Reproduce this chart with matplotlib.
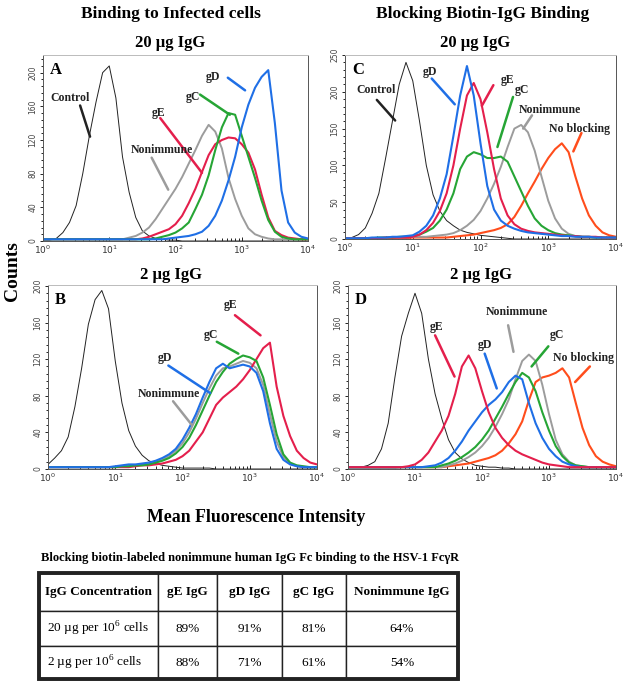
import numpy as np
import matplotlib
matplotlib.use('Agg')
import matplotlib.pyplot as plt
from matplotlib.patches import Rectangle

matplotlib.rcParams['font.family'] = 'DejaVu Sans'
SERIF = 'Liberation Serif'

# histogram channels, log10 of fluorescence (0.1 decade bins)
channels = np.arange(41) / 10.0

# Panel A - binding to infected cells, 20 ug IgG
ctrl_A = [1, 1, 3, 10, 22, 42, 80, 125, 165, 200, 208, 170, 100, 58, 28, 12, 6, 3, 2, 1, 1,
          0, 0, 0, 0, 0, 0, 0, 0, 0, 0, 0, 0, 0, 0, 0, 0, 0, 0, 0, 0]
non_A = [2, 2, 2, 2, 2, 2, 2, 2, 2, 2, 2, 2, 2, 4, 6, 10, 16, 26, 38, 50, 62, 76, 92, 108,
         125, 138, 130, 110, 75, 50, 30, 15, 8, 5, 3, 2, 2, 2, 2, 2, 2]
gE_A = [2, 2, 2, 2, 2, 2, 2, 2, 2, 2, 2, 2, 2, 2, 2, 3, 5, 8, 11, 14, 20, 30, 45, 62, 82,
        102, 115, 120, 123, 122, 115, 105, 85, 55, 28, 12, 7, 4, 3, 2, 2]
gC_A = [2, 2, 2, 2, 2, 2, 2, 2, 2, 2, 2, 2, 2, 2, 2, 2, 2, 3, 5, 7, 10, 15, 22, 38, 55,
        78, 108, 135, 152, 150, 125, 100, 75, 48, 25, 11, 5, 3, 2, 2, 2]
gD_A = [2, 2, 2, 2, 2, 2, 2, 2, 2, 2, 2, 2, 2, 2, 2, 2, 2, 2, 2, 3, 4, 5, 6, 8, 11, 18,
        30, 48, 72, 100, 135, 162, 182, 195, 203, 140, 60, 22, 10, 5, 3]

# Panel B - binding to infected cells, 2 ug IgG
ctrl_B = [5, 12, 20, 35, 68, 110, 158, 185, 195, 175, 118, 72, 42, 25, 15, 9, 6, 4, 3, 2, 1,
          1, 1, 1, 1, 0, 0, 0, 0, 0, 0, 0, 0, 0, 0, 0, 0, 0, 0, 0, 0]
non_B = [2, 2, 2, 2, 2, 2, 2, 2, 2, 2, 2, 3, 3, 4, 5, 6, 8, 10, 14, 20, 28, 40, 55, 72, 88,
         102, 110, 112, 115, 118, 116, 110, 92, 60, 30, 13, 6, 3, 2, 2, 2]
gE_B = [2, 2, 2, 2, 2, 2, 2, 2, 2, 2, 2, 2, 2, 3, 4, 4, 5, 6, 8, 10, 14, 20, 30, 40, 55,
        70, 78, 84, 90, 98, 108, 120, 132, 138, 90, 58, 36, 20, 12, 7, 5]
gC_B = [2, 2, 2, 2, 2, 2, 2, 2, 2, 2, 2, 3, 3, 4, 4, 5, 7, 9, 12, 17, 24, 34, 48, 64, 80,
        95, 106, 115, 120, 124, 122, 118, 100, 70, 38, 16, 7, 4, 3, 2, 2]
gD_B = [2, 2, 2, 2, 2, 2, 2, 2, 2, 2, 3, 4, 5, 5, 6, 7, 9, 12, 16, 22, 32, 45, 60, 78, 95,
        110, 115, 110, 112, 114, 112, 105, 85, 50, 22, 10, 5, 3, 2, 2, 2]

# Panel C - blocking biotin-IgG binding, 20 ug IgG
ctrl_C = [1, 2, 6, 15, 35, 62, 110, 160, 210, 240, 215, 160, 100, 60, 38, 25, 18, 12, 9, 7,
          5, 4, 3, 2, 1, 0, 0, 0, 0, 0, 0, 0, 0, 0, 0, 0, 0, 0, 0, 0, 0]
nob_C = [1, 1, 1, 1, 1, 1, 1, 1, 1, 1, 2, 2, 2, 2, 2, 2, 3, 4, 5, 6, 8, 10, 12, 15, 20, 30,
         45, 62, 78, 95, 110, 122, 130, 118, 85, 55, 32, 18, 9, 5, 3]
non_C = [1, 1, 1, 1, 1, 1, 1, 2, 2, 2, 3, 3, 3, 4, 5, 6, 8, 12, 18, 26, 38, 55, 75, 98,
         125, 150, 155, 145, 120, 85, 52, 28, 14, 7, 4, 3, 2, 2, 2, 1, 1]
gC_C = [1, 1, 1, 1, 1, 2, 2, 2, 3, 3, 4, 6, 10, 15, 25, 40, 62, 95, 112, 118, 115, 110,
        110, 112, 105, 85, 65, 45, 28, 18, 12, 8, 6, 5, 4, 3, 3, 2, 2, 2, 2]
gE_C = [1, 1, 1, 1, 1, 1, 2, 2, 2, 2, 3, 6, 12, 22, 38, 62, 100, 150, 195, 212, 190, 145,
        95, 55, 32, 20, 14, 11, 9, 8, 7, 6, 5, 4, 4, 3, 3, 3, 2, 2, 2]
gD_C = [1, 1, 1, 1, 2, 2, 2, 3, 3, 4, 5, 10, 18, 32, 55, 88, 140, 195, 235, 195, 130, 72,
        40, 25, 18, 14, 11, 9, 8, 7, 6, 5, 4, 4, 3, 3, 3, 2, 2, 2, 2]

# Panel D - blocking biotin-IgG binding, 2 ug IgG
ctrl_D = [1, 1, 2, 4, 8, 22, 50, 100, 145, 170, 192, 170, 120, 82, 55, 32, 18, 11, 7, 4, 3,
          2, 2, 1, 1, 0, 0, 0, 0, 0, 0, 0, 0, 0, 0, 0, 0, 0, 0, 0, 0]
nob_D = [2, 2, 2, 2, 2, 2, 2, 2, 2, 2, 2, 2, 2, 2, 2, 3, 4, 5, 6, 8, 10, 12, 15, 20, 28,
         38, 52, 75, 95, 100, 102, 105, 110, 100, 72, 45, 26, 14, 8, 5, 3]
non_D = [1, 1, 1, 1, 1, 1, 1, 1, 2, 2, 2, 2, 2, 2, 2, 4, 6, 9, 13, 18, 25, 34, 46, 60, 76,
         98, 118, 125, 118, 92, 60, 32, 16, 8, 4, 3, 2, 2, 2, 2, 2]
gC_D = [2, 2, 2, 2, 2, 2, 2, 2, 2, 2, 2, 2, 2, 2, 4, 6, 9, 13, 18, 24, 32, 42, 55, 68, 82,
        95, 105, 100, 85, 62, 42, 25, 14, 7, 4, 3, 2, 2, 2, 2, 2]
gD_D = [2, 2, 2, 2, 2, 2, 2, 2, 2, 2, 2, 2, 3, 4, 7, 12, 20, 30, 42, 52, 62, 70, 76, 84, 95,
        102, 98, 72, 50, 34, 22, 14, 8, 5, 3, 2, 2, 2, 2, 2, 2]
gE_D = [2, 2, 2, 2, 2, 2, 2, 2, 2, 3, 5, 10, 18, 30, 42, 58, 82, 112, 124, 110, 85, 62, 45,
        34, 26, 20, 16, 13, 10, 7, 5, 4, 3, 2, 2, 2, 2, 2, 2, 2, 2]

# table values (% blocking)
table_cols = ['IgG Concentration', 'gE IgG', 'gD IgG', 'gC IgG', 'Nonimmune IgG']
row_labels = [r'20 µg per 10$^{\mathdefault{6}}$ cells', r'2 µg per 10$^{\mathdefault{6}}$ cells']
block_20ug = ['89%', '91%', '81%', '64%']
block_2ug = ['88%', '71%', '61%', '54%']

RED = '#e41f4c'
BLUE = '#1f6fe6'
GREEN = '#26a535'
GRAY = '#9c9c9c'
ORANGE = '#ff4d1c'
BLACK = '#222222'

W, H = 628, 687
fig = plt.figure(figsize=(W / 100, H / 100), dpi=100)


def rect(left, right, bottom, top):
    return [left / W, 1 - bottom / H, (right - left) / W, (bottom - top) / H]


def panel(box, ymax, ystep, yminor, letter, curves, labels):
    ax = fig.add_axes(box)
    for vals, color, lw in curves:
        ax.plot(10 ** channels, vals, color=color, lw=lw)
    ax.set_xscale('log')
    ax.set_xlim(1, 1e4)
    ax.set_ylim(0, ymax)
    ax.set_xticks([1, 10, 100, 1000, 10000])
    ax.set_xticklabels([r'$\mathdefault{10^{%d}}$' % k for k in range(5)], fontsize=6.5, color='#333333')
    ax.set_yticks(np.arange(0, ymax + 1, ystep))
    ax.set_yticks(np.arange(0, ymax + 1, yminor), minor=True)
    ax.tick_params(axis='y', which='both', direction='out', labelsize=5.5, labelcolor='#444444',
                   labelrotation=90, length=2.5, width=0.6, pad=1.5)
    ax.tick_params(axis='y', which='minor', length=1.5)
    ax.tick_params(axis='x', which='both', direction='in', length=3, width=0.6, pad=2)
    ax.tick_params(axis='x', which='minor', length=2)
    for lbl in ax.get_yticklabels():
        lbl.set_va('center')
    for sp in ax.spines.values():
        sp.set_linewidth(0.7)
        sp.set_color('#555555')
    ax.spines['top'].set_color('#bbbbbb')
    ax.text(0.025, 0.92, letter, transform=ax.transAxes, fontfamily=SERIF,
            fontweight='bold', fontsize=12, va='center', ha='left')
    for txt, color, tpos, p0, p1 in labels:
        ax.text(10 ** tpos[0], tpos[1], txt, fontfamily=SERIF, fontweight='bold',
                fontsize=8.5, ha='center', va='center', color='#222222')
        ax.annotate('', xy=(10 ** p1[0], p1[1]), xytext=(10 ** p0[0], p0[1]),
                    arrowprops=dict(arrowstyle='-', color=color, lw=1.8, shrinkA=0, shrinkB=0))
    return ax


panel(rect(43, 308, 241, 55), 221, 40, 8, 'A',
      [(ctrl_A, BLACK, 0.7), (non_A, GRAY, 1.4), (gE_A, RED, 1.5), (gC_A, GREEN, 1.5), (gD_A, BLUE, 1.5)],
      [('Control', BLACK, (0.41, 170), (0.56, 161), (0.71, 124)),
       ('gE', RED, (1.75, 152), (1.77, 146), (2.40, 81)),
       ('gC', GREEN, (2.26, 171), (2.37, 174), (2.82, 150)),
       ('gD', BLUE, (2.57, 195), (2.79, 194), (3.05, 179)),
       ('Nonimmune', GRAY, (1.80, 108), (1.64, 99), (1.89, 61))])

panel(rect(345, 616, 239, 55), 250, 50, 10, 'C',
      [(ctrl_C, BLACK, 0.7), (nob_C, ORANGE, 1.5), (non_C, GRAY, 1.4), (gC_C, GREEN, 1.5),
       (gE_C, RED, 1.5), (gD_C, BLUE, 1.5)],
      [('Control', BLACK, (0.46, 202), (0.47, 189), (0.74, 161)),
       ('gD', BLUE, (1.25, 227), (1.28, 218), (1.62, 183)),
       ('gE', RED, (2.40, 216), (2.19, 209), (2.02, 181)),
       ('gC', GREEN, (2.61, 203), (2.48, 193), (2.25, 125)),
       ('Nonimmune', GRAY, (3.03, 175), (2.76, 168), (2.63, 150)),
       ('No blocking', ORANGE, (3.46, 149), (3.49, 144), (3.37, 119))])

panel(rect(48, 317, 469, 285), 201, 40, 8, 'B',
      [(ctrl_B, BLACK, 0.7), (non_B, GRAY, 1.4), (gE_B, RED, 1.5), (gC_B, GREEN, 1.5), (gD_B, BLUE, 1.5)],
      [('gE', RED, (2.72, 179), (2.78, 168), (3.16, 146)),
       ('gC', GREEN, (2.42, 146), (2.51, 139), (2.83, 126)),
       ('gD', BLUE, (1.74, 121), (1.79, 113), (2.41, 83)),
       ('Nonimmune', GRAY, (1.79, 82), (1.86, 74), (2.14, 48))])

panel(rect(348, 616, 469, 285), 201, 40, 8, 'D',
      [(ctrl_D, BLACK, 0.7), (nob_D, ORANGE, 1.5), (non_D, GRAY, 1.4), (gC_D, GREEN, 1.5),
       (gD_D, BLUE, 1.5), (gE_D, RED, 1.5)],
      [('gE', RED, (1.32, 155), (1.30, 146), (1.59, 101)),
       ('gD', BLUE, (2.04, 136), (2.04, 126), (2.22, 88)),
       ('Nonimmune', GRAY, (2.52, 171), (2.39, 157), (2.47, 128)),
       ('gC', GREEN, (3.12, 146), (2.99, 134), (2.74, 112)),
       ('No blocking', ORANGE, (3.51, 121), (3.61, 112), (3.39, 95))])


def ftext(x, y, s, **kw):
    fig.text(x / W, 1 - y / H, s, fontfamily=SERIF, fontweight='bold', ha='center', va='center', **kw)


ftext(171, 14, 'Binding to Infected cells', fontsize=12.5)
ftext(483, 14, 'Blocking Biotin-IgG Binding', fontsize=12.5)
ftext(170, 43, '20 µg IgG', fontsize=12)
ftext(475, 43, '20 µg IgG', fontsize=12)
ftext(171, 275, '2 µg IgG', fontsize=12)
ftext(481, 275, '2 µg IgG', fontsize=12)
ftext(13, 271, 'Counts', fontsize=14)
fig.texts[-1].set_rotation(90)
ftext(256, 518, 'Mean Fluorescence Intensity', fontsize=12.8)
ftext(250, 558, 'Blocking biotin-labeled nonimmune human IgG Fc binding to the HSV-1 FcγR', fontsize=9)

# table
tax = fig.add_axes(rect(39, 458, 679, 573))
tax.axis('off')
widths = np.array([119, 59, 65, 64, 112]) / 419.0
cells = [[row_labels[0]] + block_20ug, [row_labels[1]] + block_2ug]
tab = tax.table(cellText=cells, colLabels=table_cols, colWidths=widths, bbox=[0, 0, 1, 1],
                cellLoc='center')
tab.auto_set_font_size(False)
heights = [38 / 106, 35 / 106, 33 / 106]
for (r, c), cell in tab.get_celld().items():
    cell.set_linewidth(1.0)
    cell.set_edgecolor('#222222')
    cell.set_height(heights[r])
    t = cell.get_text()
    t.set_fontfamily(SERIF)
    t.set_fontsize(9.5)
    if r == 0:
        t.set_fontweight('bold')
    if r > 0 and c == 0:
        t.set_ha('left')
        cell.PAD = 0.065
tax.add_patch(Rectangle((0, 0), 1, 1, transform=tax.transAxes, fill=False, lw=2.8,
                        edgecolor='#222222', clip_on=False, zorder=5))

fig.savefig('out.png', dpi=100)
